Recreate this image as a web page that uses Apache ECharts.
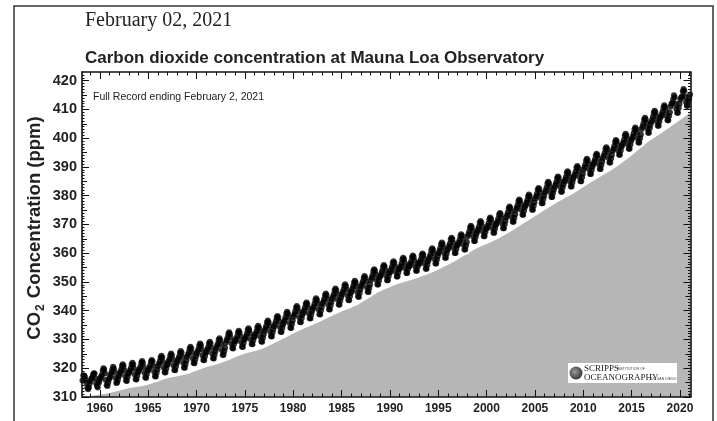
<!DOCTYPE html>
<html>
<head>
<meta charset="utf-8">
<script src="https://cdn.jsdelivr.net/npm/echarts@6/dist/echarts.min.js"></script>
<style>
  html, body { margin: 0; padding: 0; background: #fff; }
  #chart { width: 717px; height: 421px; }
</style>
</head>
<body>
<div id="chart"></div>
<script>
// monthly CO2 (ppm), each array starts in January of its first year
const ppm1958s = [
  null, null, 315.7, 317.5, 317.5, 317.1, 315.9, 314.9, 313.2, 312.7, 313.3, 314.7,
  315.6, 316.4, 316.7, 317.7, 318.3, 318.2, 316.5, 314.8, 313.8, 313.3, 314.8, 315.6
];
const ppm1960s = [
  316.4, 317.0, 317.6, 319.0, 320.0, 319.6, 318.2, 315.9, 314.2, 313.8, 315.0, 316.2,
  316.9, 317.7, 318.5, 319.6, 320.5, 319.9, 318.7, 316.6, 314.9, 315.0, 316.0, 317.1,
  317.9, 318.7, 319.5, 320.8, 321.4, 320.8, 319.3, 317.3, 315.7, 315.6, 316.9, 318.1,
  318.4, 319.2, 320.0, 321.3, 321.9, 321.3, 319.8, 317.8, 316.2, 316.1, 317.4, 318.6,
  319.0, 319.8, 320.6, 321.9, 322.5, 321.9, 320.4, 318.4, 316.8, 316.7, 318.0, 319.2,
  319.4, 320.2, 321.0, 322.3, 322.9, 322.3, 320.8, 318.8, 317.2, 317.1, 318.4, 319.6,
  320.8, 321.6, 322.4, 323.7, 324.3, 323.7, 322.2, 320.2, 318.6, 318.5, 319.8, 321.0,
  321.6, 322.4, 323.2, 324.5, 325.1, 324.5, 323.0, 321.0, 319.4, 319.3, 320.6, 321.8,
  322.5, 323.3, 324.1, 325.4, 326.0, 325.4, 323.9, 321.9, 320.3, 320.2, 321.5, 322.7,
  324.0, 324.8, 325.6, 326.9, 327.5, 326.9, 325.4, 323.4, 321.8, 321.7, 323.0, 324.2
];
const ppm1970s = [
  325.1, 325.9, 326.7, 328.0, 328.6, 328.0, 326.5, 324.5, 322.9, 322.8, 324.1, 325.3,
  325.7, 326.5, 327.3, 328.6, 329.2, 328.6, 327.1, 325.1, 323.5, 323.4, 324.7, 325.9,
  326.9, 327.7, 328.5, 329.8, 330.4, 329.8, 328.3, 326.3, 324.7, 324.6, 325.9, 327.1,
  328.9, 329.7, 330.6, 331.9, 332.5, 331.9, 330.6, 328.6, 327.0, 326.9, 328.3, 329.5,
  329.4, 330.2, 331.1, 332.4, 333.0, 332.4, 331.1, 329.1, 327.5, 327.4, 328.8, 330.0,
  330.3, 331.1, 332.0, 333.3, 333.9, 333.3, 332.0, 330.0, 328.4, 328.3, 329.7, 330.9,
  331.2, 332.0, 332.9, 334.2, 334.8, 334.2, 332.9, 330.9, 329.3, 329.2, 330.6, 331.8,
  333.0, 333.8, 334.7, 336.0, 336.6, 336.0, 334.7, 332.7, 331.1, 331.0, 332.4, 333.6,
  334.6, 335.4, 336.3, 337.6, 338.2, 337.6, 336.3, 334.3, 332.7, 332.6, 334.0, 335.2,
  336.0, 336.8, 337.7, 339.0, 339.6, 339.0, 337.7, 335.7, 334.1, 334.0, 335.4, 336.6
];
const ppm1980s = [
  338.0, 338.8, 339.7, 341.0, 341.6, 341.0, 339.7, 337.7, 336.1, 336.0, 337.4, 338.6,
  339.3, 340.1, 341.0, 342.3, 342.9, 342.3, 341.0, 339.0, 337.4, 337.3, 338.7, 339.9,
  340.7, 341.5, 342.4, 343.7, 344.3, 343.7, 342.4, 340.4, 338.8, 338.7, 340.1, 341.3,
  342.4, 343.2, 344.1, 345.4, 346.0, 345.4, 344.1, 342.1, 340.5, 340.4, 341.8, 343.0,
  344.1, 344.9, 345.8, 347.1, 347.7, 347.1, 345.8, 343.8, 342.2, 342.1, 343.5, 344.7,
  345.6, 346.4, 347.3, 348.6, 349.2, 348.6, 347.3, 345.3, 343.7, 343.6, 345.0, 346.2,
  346.8, 347.6, 348.5, 349.8, 350.4, 349.8, 348.5, 346.5, 344.9, 344.8, 346.2, 347.4,
  348.5, 349.3, 350.2, 351.5, 352.1, 351.5, 350.2, 348.2, 346.6, 346.5, 347.9, 349.1,
  350.7, 351.5, 352.4, 353.8, 354.4, 353.9, 352.6, 350.7, 349.1, 349.1, 350.5, 351.7,
  352.2, 353.0, 353.9, 355.3, 355.9, 355.4, 354.1, 352.2, 350.6, 350.6, 352.0, 353.2
];
const ppm1990s = [
  353.5, 354.3, 355.2, 356.6, 357.2, 356.7, 355.4, 353.5, 351.9, 351.9, 353.3, 354.5,
  354.7, 355.5, 356.4, 357.8, 358.4, 357.9, 356.6, 354.7, 353.1, 353.1, 354.5, 355.7,
  355.5, 356.3, 357.2, 358.6, 359.2, 358.7, 357.4, 355.5, 353.9, 353.9, 355.3, 356.5,
  356.2, 357.0, 357.9, 359.3, 359.9, 359.4, 358.1, 356.2, 354.6, 354.6, 356.0, 357.2,
  358.0, 358.8, 359.7, 361.1, 361.7, 361.2, 359.9, 358.0, 356.4, 356.4, 357.8, 359.0,
  360.0, 360.8, 361.7, 363.1, 363.7, 363.2, 361.9, 360.0, 358.4, 358.4, 359.8, 361.0,
  361.7, 362.5, 363.4, 364.8, 365.4, 364.9, 363.6, 361.7, 360.1, 360.1, 361.5, 362.7,
  362.9, 363.7, 364.6, 366.0, 366.6, 366.1, 364.8, 362.9, 361.3, 361.3, 362.7, 363.9,
  365.8, 366.6, 367.5, 368.9, 369.5, 369.0, 367.7, 365.8, 364.2, 364.2, 365.6, 366.8,
  367.5, 368.3, 369.2, 370.6, 371.2, 370.7, 369.4, 367.5, 365.9, 365.9, 367.3, 368.5
];
const ppm2000s = [
  368.7, 369.5, 370.4, 371.8, 372.4, 371.9, 370.6, 368.7, 367.1, 367.1, 368.5, 369.7,
  370.3, 371.1, 372.0, 373.4, 374.0, 373.5, 372.2, 370.3, 368.7, 368.7, 370.1, 371.3,
  372.5, 373.3, 374.2, 375.6, 376.2, 375.7, 374.4, 372.5, 370.9, 370.9, 372.3, 373.5,
  375.0, 375.8, 376.7, 378.1, 378.7, 378.2, 376.9, 375.0, 373.4, 373.4, 374.8, 376.0,
  376.7, 377.5, 378.4, 379.8, 380.4, 379.9, 378.6, 376.7, 375.1, 375.1, 376.5, 377.7,
  379.0, 379.8, 380.7, 382.1, 382.7, 382.2, 380.9, 379.0, 377.4, 377.4, 378.8, 380.0,
  381.1, 381.9, 382.8, 384.2, 384.8, 384.3, 383.0, 381.1, 379.5, 379.5, 380.9, 382.1,
  383.0, 383.8, 384.7, 386.1, 386.7, 386.2, 384.9, 383.0, 381.4, 381.4, 382.8, 384.0,
  384.8, 385.6, 386.5, 387.9, 388.5, 388.0, 386.7, 384.8, 383.2, 383.2, 384.6, 385.8,
  386.6, 387.4, 388.3, 389.7, 390.3, 389.8, 388.5, 386.6, 385.0, 385.0, 386.4, 387.6
];
const ppm2010s = [
  389.1, 389.9, 390.8, 392.2, 392.8, 392.3, 391.0, 389.1, 387.5, 387.5, 388.9, 390.1,
  390.9, 391.7, 392.6, 394.0, 394.6, 394.1, 392.8, 390.9, 389.3, 389.3, 390.7, 391.9,
  393.1, 393.9, 394.8, 396.2, 396.8, 396.3, 395.0, 393.1, 391.5, 391.5, 392.9, 394.1,
  395.5, 396.3, 397.3, 398.7, 399.4, 398.9, 397.6, 395.7, 394.2, 394.2, 395.7, 397.0,
  397.6, 398.4, 399.4, 400.8, 401.5, 401.0, 399.7, 397.8, 396.3, 396.3, 397.8, 399.1,
  399.8, 400.6, 401.6, 403.0, 403.7, 403.2, 401.9, 400.0, 398.5, 398.5, 400.0, 401.3,
  403.2, 404.0, 405.0, 406.4, 407.1, 406.6, 405.3, 403.4, 401.9, 401.9, 403.4, 404.7,
  405.6, 406.4, 407.4, 408.8, 409.5, 409.0, 407.7, 405.8, 404.3, 404.3, 405.8, 407.1,
  407.5, 408.3, 409.3, 410.7, 411.4, 410.9, 409.6, 407.7, 406.2, 406.2, 407.7, 409.0,
  411.0, 412.0, 412.2, 413.5, 414.9, 414.2, 412.0, 410.2, 408.8, 408.8, 410.5, 412.0
];
const ppm2020s = [
  413.4, 414.1, 414.5, 416.2, 417.1, 416.4, 414.4, 412.6, 411.3, 411.3, 412.9, 413.9,
  415.2
];

// top edge of the grey band under the record
const fillYears = [1958.16, 1958.75, 1960.75, 1962.75, 1964.75, 1966.75, 1968.75, 1970.75,
  1972.75, 1974.75, 1976.75, 1978.75, 1980.75, 1982.75, 1984.75, 1986.75, 1988.75,
  1990.75, 1992.75, 1994.75, 1996.75, 1998.75, 2000.75, 2002.75, 2004.75, 2006.75,
  2008.75, 2010.75, 2012.75, 2014.75, 2016.75, 2018.75, 2020.75, 2021.09];
const fillTop = [310.1, 310.2, 311.2, 312.9, 314.1, 316.3, 317.7, 320.1,
  322.1, 324.8, 326.7, 329.9, 333.3, 336.2, 339.4, 342.2, 346.3,
  349.2, 351.3, 353.9, 357.3, 361.3, 364.3, 368.1, 372.3, 376.6,
  380.3, 384.6, 388.6, 393.3, 398.8, 403.3, 408.1, 409.3];

const xTickYears = [1960, 1965, 1970, 1975, 1980, 1985, 1990, 1995, 2000, 2005, 2010, 2015, 2020];
const yTickValues = [310, 320, 330, 340, 350, 360, 370, 380, 390, 400, 410, 420];

const xMin = 1958.16, xMax = 2021.09;
const yMin = 310, yMax = 423;

const decades = [
  [1958, ppm1958s], [1960, ppm1960s], [1970, ppm1970s], [1980, ppm1980s],
  [1990, ppm1990s], [2000, ppm2000s], [2010, ppm2010s], [2020, ppm2020s]
];
const monthly = [];
decades.forEach(([y0, arr]) => {
  arr.forEach((v, i) => {
    if (v != null) monthly.push([y0 + (i + 0.5) / 12, v]);
  });
});
const fillData = fillYears.map((y, i) => [y, fillTop[i]]);

const minorYears = [];
for (let y = 1959; y <= 2021; y++) if (y % 5 !== 0) minorYears.push(y);
const midPpm = [];
for (let v = 311; v <= 422; v++) if (v % 10 !== 0 && v % 5 !== 0) midPpm.push(v);
const fivePpm = [315, 325, 335, 345, 355, 365, 375, 385, 395, 405, 415];

const ink = '#111';
const xBase = (pos, ticks, len, extra) => Object.assign({
  type: 'value', position: pos, min: xMin, max: xMax, z: 5,
  axisLine: { show: false },
  axisTick: { show: true, inside: true, length: len, customValues: ticks, lineStyle: { color: ink, width: 1 } },
  axisLabel: { show: false },
  splitLine: { show: false }
}, extra || {});
const yBase = (pos, ticks, len, extra) => Object.assign({
  type: 'value', position: pos, min: yMin, max: yMax, z: 5,
  axisLine: { show: false },
  axisTick: { show: true, inside: true, length: len, customValues: ticks, lineStyle: { color: ink, width: 1 } },
  axisLabel: { show: false },
  splitLine: { show: false }
}, extra || {});

const boxLine = { show: true, onZero: false, lineStyle: { color: ink, width: 1.6 } };

const chart = echarts.init(document.getElementById('chart'), null, { renderer: 'canvas' });
chart.setOption({
  backgroundColor: '#ffffff',
  animation: false,
  textStyle: { fontFamily: 'Liberation Sans' },
  title: [
    { text: 'February 02, 2021', left: 85, top: 11, padding: 0,
      textStyle: { fontFamily: 'Liberation Serif', fontSize: 20, fontWeight: 'normal', color: '#222' } },
    { text: 'Carbon dioxide concentration at Mauna Loa Observatory', left: 85, top: 50, padding: 0,
      textStyle: { fontFamily: 'Liberation Sans', fontSize: 17, fontWeight: 'bold', color: '#222' } },
    { text: 'Full Record ending February 2, 2021', left: 93, top: 92, padding: 0,
      textStyle: { fontFamily: 'Liberation Sans', fontSize: 10.5, fontWeight: 'normal', color: '#222' } }
  ],
  grid: { left: 82, right: 26.5, top: 72, bottom: 24 },
  xAxis: [
    xBase('bottom', xTickYears, 7, {
      axisLine: boxLine,
      axisLabel: { show: true, customValues: xTickYears, margin: 6, fontSize: 12, fontWeight: 'bold', color: '#222',
        formatter: v => String(Math.round(v)) }
    }),
    xBase('bottom', minorYears, 3.5),
    xBase('top', xTickYears, 7, { axisLine: boxLine }),
    xBase('top', minorYears, 3.5)
  ],
  yAxis: [
    yBase('left', yTickValues, 7, {
      axisLine: boxLine,
      axisLabel: { show: true, customValues: yTickValues, margin: 5, fontSize: 14.5, fontWeight: 'bold', color: '#222' }
    }),
    yBase('left', fivePpm, 5),
    yBase('left', midPpm, 2.5),
    yBase('right', yTickValues, 7, { axisLine: boxLine }),
    yBase('right', fivePpm, 5),
    yBase('right', midPpm, 2.5)
  ],
  series: [
    {
      type: 'line', data: fillData, smooth: 0.3, symbol: 'none', silent: true,
      lineStyle: { width: 0 }, areaStyle: { color: '#b6b6b6', opacity: 1 }, z: 1
    },
    {
      type: 'scatter', data: monthly, symbolSize: 11, silent: true,
      itemStyle: { color: '#ffffff' }, z: 2
    },
    {
      type: 'scatter', data: monthly, symbolSize: 6, silent: true,
      itemStyle: { color: '#000' }, z: 3
    }
  ],
  graphic: [
    { type: 'rect', shape: { x: 14, y: 6, width: 699, height: 440 },
      style: { fill: 'none', stroke: '#333', lineWidth: 1.5 }, silent: true },
    { type: 'text', x: 35, y: 228, rotation: Math.PI / 2, silent: true,
      style: {
        text: '{a|CO}{b|2}{a| Concentration (ppm)}',
        align: 'center', verticalAlign: 'middle',
        rich: {
          a: { fontFamily: 'Liberation Sans', fontSize: 18.5, fontWeight: 'bold', fill: '#222' },
          b: { fontFamily: 'Liberation Sans', fontSize: 12, fontWeight: 'bold', fill: '#222',
               verticalAlign: 'bottom', padding: [12, 1, 0, 1] }
        }
      } },
    { type: 'rect', shape: { x: 568, y: 363, width: 109, height: 20 }, z: 20,
      style: { fill: '#ffffff' }, silent: true },
    { type: 'circle', shape: { cx: 576, cy: 373, r: 6.5 }, z: 21, silent: true,
      style: { fill: { type: 'radial', x: 0.4, y: 0.4, r: 0.7,
        colorStops: [{ offset: 0, color: '#9a9a9a' }, { offset: 1, color: '#2a2a2a' }] } } },
    { type: 'text', x: 584, y: 364, z: 21, silent: true,
      style: { text: 'SCRIPPS', fontFamily: 'Liberation Serif', fontSize: 9, fill: '#222' } },
    { type: 'text', x: 617, y: 367, z: 21, silent: true,
      style: { text: 'INSTITUTION OF', fontFamily: 'Liberation Sans', fontSize: 3.5, fill: '#444' } },
    { type: 'text', x: 584, y: 373, z: 21, silent: true,
      style: { text: 'OCEANOGRAPHY', fontFamily: 'Liberation Serif', fontSize: 9, fill: '#222' } },
    { type: 'text', x: 651, y: 377, z: 21, silent: true,
      style: { text: 'UC SAN DIEGO', fontFamily: 'Liberation Sans', fontSize: 3.5, fill: '#444' } }
  ]
});
</script>
</body>
</html>
